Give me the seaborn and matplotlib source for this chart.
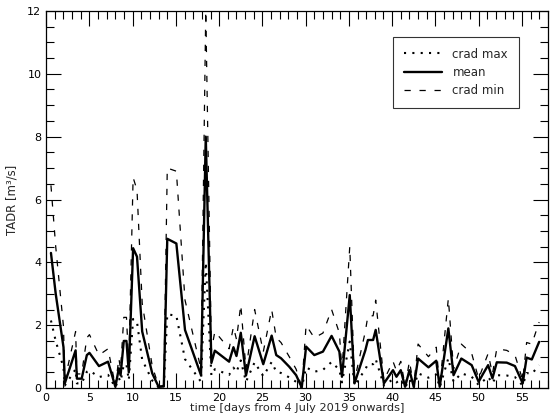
import matplotlib
matplotlib.use('Agg')
import matplotlib.pyplot as plt
import seaborn as sns
from matplotlib.ticker import MultipleLocator

# Время измерений (дни с 4 июля 2019)
days = [0.55, 1.1, 2.0, 2.15, 3.4, 3.55, 4.1, 4.7, 5.0, 6.1,
        7.15, 8.0, 8.4, 8.6, 8.97, 9.28, 9.55, 10.05, 10.5, 11.1,
        12.26, 13.0, 13.6, 14.0, 15.05, 16.05, 17.9, 18.45, 19.1, 19.5,
        21.15, 21.65, 22.0, 22.5, 23.1, 24.1, 25.1, 26.07, 26.6, 27.15,
        28.1, 28.9, 29.55, 30.05, 31.0, 32.0, 33.0, 33.9, 34.2, 35.1,
        35.65, 36.9, 37.2, 37.8, 38.1, 39.05, 40.1, 40.5, 41.0, 41.5,
        42.0, 42.5, 43.0, 44.2, 45.1, 45.5, 46.5, 47.1, 48.0, 49.2,
        50.0, 50.55, 51.1, 51.6, 52.1, 53.25, 54.2, 55.1, 55.55, 56.15, 57.0]

mean = [4.3, 3.0, 1.3, 0.15, 1.2, 0.3, 0.3, 1.05, 1.12, 0.7,
        0.84, 0.04, 0.63, 0.41, 1.5, 1.5, 0.5, 4.45, 4.18, 1.8,
        0.47, 0.04, 0.05, 4.75, 4.6, 1.85, 0.41, 8.0, 0.8, 1.19,
        0.84, 1.3, 1.02, 1.76, 0.4, 1.65, 0.76, 1.67, 1.05, 0.95,
        0.68, 0.41, 0.02, 1.32, 1.05, 1.16, 1.66, 1.16, 0.36, 2.96,
        0.15, 1.2, 1.53, 1.53, 1.85, 0.15, 0.57, 0.36, 0.57, 0.04,
        0.57, 0.04, 0.94, 0.66, 0.87, 0.04, 1.9, 0.41, 0.94, 0.73,
        0.2, 0.47, 0.73, 0.31, 0.82, 0.81, 0.7, 0.15, 0.97, 0.91, 1.47]

crad_min = [6.45, 4.5, 1.95, 0.25, 1.8, 0.45, 0.45, 1.6, 1.7, 1.05,
            1.25, 0.06, 0.95, 0.6, 2.25, 2.25, 0.75, 6.7, 6.3, 2.7,
            0.7, 0.06, 0.08, 7.0, 6.9, 2.8, 0.6, 12.0, 1.2, 1.8,
            1.25, 1.95, 1.55, 2.65, 0.6, 2.5, 1.15, 2.5, 1.6, 1.45,
            1.0, 0.6, 0.03, 2.0, 1.6, 1.75, 2.5, 1.75, 0.55, 4.5,
            0.25, 1.8, 2.3, 2.3, 2.8, 0.25, 0.85, 0.55, 0.85, 0.06,
            0.85, 0.06, 1.4, 1.0, 1.3, 0.06, 2.85, 0.6, 1.4, 1.1,
            0.3, 0.7, 1.1, 0.45, 1.25, 1.2, 1.05, 0.25, 1.45, 1.4, 2.1]

crad_max = [2.15, 1.5, 0.65, 0.08, 0.6, 0.15, 0.15, 0.52, 0.56, 0.35,
            0.42, 0.02, 0.32, 0.2, 0.75, 0.75, 0.25, 2.2, 2.1, 0.9,
            0.24, 0.02, 0.03, 2.35, 2.3, 0.92, 0.2, 4.0, 0.4, 0.6,
            0.42, 0.65, 0.51, 0.88, 0.2, 0.82, 0.38, 0.83, 0.52, 0.48,
            0.34, 0.2, 0.01, 0.66, 0.52, 0.58, 0.83, 0.58, 0.18, 1.48,
            0.08, 0.6, 0.76, 0.76, 0.92, 0.08, 0.28, 0.18, 0.28, 0.02,
            0.28, 0.02, 0.47, 0.33, 0.43, 0.02, 0.95, 0.2, 0.47, 0.36,
            0.1, 0.23, 0.36, 0.15, 0.41, 0.4, 0.35, 0.08, 0.48, 0.45, 0.73]

sns.set_style("ticks")
plt.rcParams['font.family'] = ['DejaVu Sans']

fig = plt.figure(figsize=(5.5, 4.2), dpi=100)
ax = fig.add_axes([0.084, 0.076, 0.912, 0.898])

sns.lineplot(x=days, y=crad_max, ax=ax, color='black', linewidth=1.5,
             linestyle=(0, (1, 3)), label='crad max')
sns.lineplot(x=days, y=mean, ax=ax, color='black', linewidth=1.7,
             label='mean')
sns.lineplot(x=days, y=crad_min, ax=ax, color='black', linewidth=0.9,
             linestyle=(0, (5, 7)), label='crad min')

ax.set_xlim(0, 58)
ax.set_ylim(0, 12)
ax.xaxis.set_major_locator(MultipleLocator(5))
ax.xaxis.set_minor_locator(MultipleLocator(1))
ax.yaxis.set_major_locator(MultipleLocator(2))
ax.yaxis.set_minor_locator(MultipleLocator(0.5))
ax.tick_params(which='both', direction='in', top=True, right=True,
               width=0.8, colors='black', labelsize=8)
ax.tick_params(which='major', length=11)
ax.tick_params(which='minor', length=5.5)
for s in ax.spines.values():
    s.set_color('black')
    s.set_linewidth(0.9)

ax.set_xlabel('time [days from 4 July 2019 onwards]', fontsize=8.2, labelpad=0)
ax.set_ylabel('TADR [m³/s]', fontsize=8.4, labelpad=6)

leg = ax.legend(loc='upper right', bbox_to_anchor=(0.942, 0.931), fontsize=8.5,
                frameon=True, fancybox=False, edgecolor='black',
                handlelength=3.2, handletextpad=0.9, labelspacing=0.45,
                borderpad=0.9, borderaxespad=0)
leg.get_frame().set_linewidth(0.8)

plt.savefig('out.png', dpi=100)
